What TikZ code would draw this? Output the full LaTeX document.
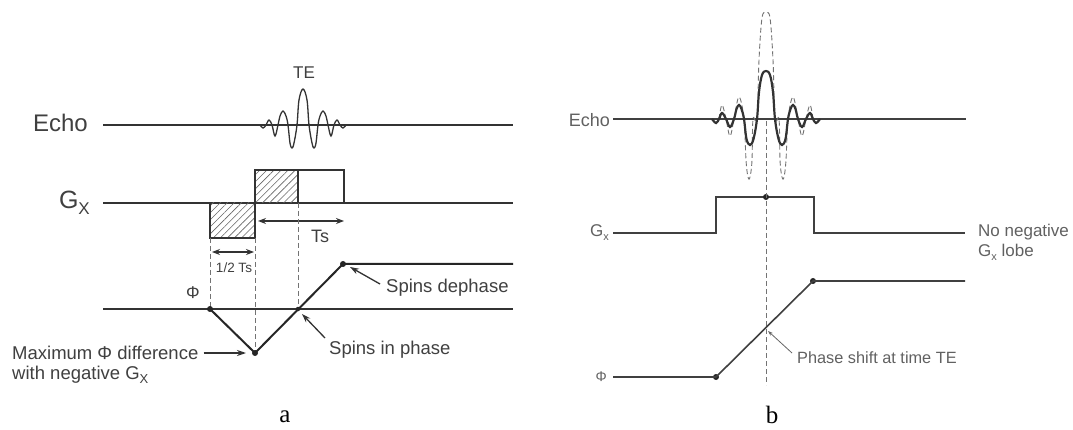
\documentclass[tikz,border=0pt]{standalone}
\usepackage{fontspec}
\setmainfont{Liberation Sans}
\newfontfamily\panelfont{Liberation Serif}
\usetikzlibrary{arrows.meta,patterns.meta}
\newcommand\myfs[1]{\fontsize{#1}{#1}\selectfont}
\begin{document}
\begin{tikzpicture}[x=1pt,y=-1pt,
  ln/.style={line width=1.4pt, draw=black!80},
  lnb/.style={line width=1.6pt, draw=black!75},
  ph/.style={line width=2pt, draw=black!85},
  wave/.style={line width=1.3pt, draw=black!80},
  waveb/.style={line width=2.2pt, draw=black!80},
  dsh/.style={dash pattern=on 5pt off 3pt, line width=0.9pt, draw=black!55},
  dotn/.style={circle, fill=black!85, inner sep=0pt, minimum size=6pt},
  lbl/.style={text=black!75, inner sep=0pt},
  lblb/.style={text=black!62, inner sep=0pt},
  arr/.style={-{Stealth[length=9pt,width=6pt]}, line width=1.3pt, draw=black!80},
  darr/.style={{Stealth[length=8pt,width=6pt]}-{Stealth[length=8pt,width=6pt]}, line width=1.3pt, draw=black!80},
  thinarr/.style={-{Stealth[length=5pt,width=3.5pt]}, line width=0.8pt, draw=black!60},
  hatch/.style={pattern={Lines[angle=45,distance=5pt,line width=0.6pt]}, pattern color=black!60},
]
\useasboundingbox[fill=white] (0,0) rectangle (1073,430);

% ================= Panel a =================
\node[lbl, anchor=east, font=\myfs{24}] (echoA) at (88,123) {Echo};
\draw[ln] (103,125) -- (513,125);
\draw[wave] plot[smooth, tension=0.6] coordinates {
 (260,125) (263,128) (266,125) (269,120) (272,125) (275,136) (278,125)
 (280,116) (283,111) (286,116) (288,125) (290,143) (292,148) (294,143) (297,125)
 (299,100) (303,89) (307,100) (309,125) (312,143) (314,148) (316,143) (318,125)
 (320,116) (323,111) (326,116) (328,125) (331,136) (334,125) (337,120) (340,125)
 (343,128) (346,125)};
\node[lbl, font=\myfs{17}] (te) at (304,73) {TE};

\node[lbl, anchor=east, font=\myfs{25}] (gxA) at (90,203) {G\raisebox{-6pt}{\myfs{17}X}};
\draw[ln] (103,203) -- (513,203);
\fill[hatch] (255,170) rectangle (298,203);
\fill[hatch] (210,203) rectangle (255,238);
\draw[ln] (255,203) -- (255,170) -- (344,170) -- (344,203);
\draw[ln] (298,170) -- (298,203);
\draw[ln] (210,203) -- (210,238) -- (255,238) -- (255,203);

\coordinate (tsL) at (258,221);
\coordinate (tsR) at (344,221);
\draw[darr] (tsL) -- (tsR);
\node[lbl, font=\myfs{18}] (ts) at (320,236) {Ts};
\coordinate (htsL) at (212,252);
\coordinate (htsR) at (254,252);
\draw[darr] (htsL) -- (htsR);
\node[lbl, font=\myfs{13.5}] (hts) at (234,268) {1/2 Ts};

\draw[dsh] (210,238) -- (210,309);
\draw[dsh] (255,238) -- (255,353);
\draw[dsh] (298,203) -- (298,309);

\node[lbl, font=\myfs{17}] (phiA) at (193,293) {Φ};
\draw[ln] (103,309) -- (513,309);
\node[dotn] (p1) at (210,309) {};
\node[dotn] (p2) at (255,353) {};
\node[dotn, minimum size=4.5pt] (p3) at (298,309) {};
\node[dotn] (p4) at (343,264) {};
\coordinate (p5) at (513,264);
\draw[ph] (p1.center) -- (p2.center) -- (p4.center) -- (p5);

\node[lbl, anchor=west, font=\myfs{18.5}] (deph) at (386,288) {Spins dephase};
\coordinate (dephT) at (350,267);
\draw[arr] (deph.west) ++(-6,-4) -- (dephT);
\node[lbl, anchor=west, font=\myfs{18.5}] (inph) at (329,350) {Spins in phase};
\coordinate (inphT) at (302,314);
\draw[arr] (325,338) -- (inphT);
\node[lbl, anchor=west, font=\myfs{18.5}] (maxd) at (12,353) {Maximum Φ difference};
\node[lbl, anchor=west, font=\myfs{18.5}] (maxd2) at (12,375) {with negative G\raisebox{-4pt}{\myfs{13}X}};
\coordinate (maxT) at (246,353);
\draw[arr] (maxd.east) ++(5,0) -- (maxT);

\node[inner sep=0pt, font=\panelfont\myfs{25}] (la) at (285,417) {a};

% ================= Panel b =================
\node[lblb, anchor=east, font=\myfs{18}] (echoB) at (610,120) {Echo};
\draw[lnb] (613,119) -- (966,119);
\draw[dsh] plot[smooth, tension=0.6] coordinates {
 (719,119) (722,105) (726,119) (730,136) (734,119) (739,97) (744,119)
 (746,160) (748,177) (750,177) (752,160) (753,119) (757,119) (759,60) (762,18) (766,13) (770,18) (773,60) (775,119)
 (779,119) (780,160) (782,177) (784,177) (786,160) (788,119) (793,97) (798,119) (802,136) (806,119) (810,105) (813,119)};
\draw[waveb] plot[smooth, tension=0.6] coordinates {
 (712,119) (716,123) (719,119) (722,113) (726,119) (730,127) (734,119)
 (736.5,109) (739,105) (741.5,109) (744,119) (746.5,139) (750,145) (753.5,139) (757,119)
 (759,92) (762,75) (766,71) (770,75) (773,92) (775,119)
 (778.5,139) (782,145) (785.5,139) (788,119) (790.5,109) (793,105) (795.5,109) (798,119)
 (802,127) (806,119) (810,113) (813,119) (816,123) (820,119)};

\node[lblb, anchor=east, font=\myfs{17}] (gxB) at (609,233) {G\raisebox{-4pt}{\myfs{11}x}};
\coordinate (g1) at (613,233);
\coordinate (g2) at (716,233);
\coordinate (g3) at (716,197);
\coordinate (g5) at (814,197);
\coordinate (g6) at (814,233);
\coordinate (g7) at (965,233);
\draw[lnb] (g1) -- (g2) -- (g3) -- (g5) -- (g6) -- (g7);
\node[dotn] (gd) at (766,197) {};
\draw[dsh] (766,121) -- (766,385);
\node[lblb, anchor=west, font=\myfs{17}] (noneg) at (978,232) {No negative};
\node[lblb, anchor=west, font=\myfs{17}] (lobe) at (978,252) {G\raisebox{-4pt}{\myfs{11}x} lobe};

\node[lblb, anchor=east, font=\myfs{14}] (phiB) at (607,377) {Φ};
\coordinate (f1) at (613,377);
\node[dotn] (f2) at (716,377) {};
\node[dotn] (f3) at (813,281) {};
\coordinate (f4) at (965,281);
\draw[lnb] (f1) -- (f2.center) -- (f3.center) -- (f4);
\node[lblb, anchor=west, font=\myfs{16.3}] (shift) at (797,358) {Phase shift at time TE};
\coordinate (shiftT) at (768,331);
\draw[thinarr] (792,353) -- (shiftT);

\node[inner sep=0pt, font=\panelfont\myfs{25}] (lb) at (772,415) {b};
\end{tikzpicture}
\end{document}
